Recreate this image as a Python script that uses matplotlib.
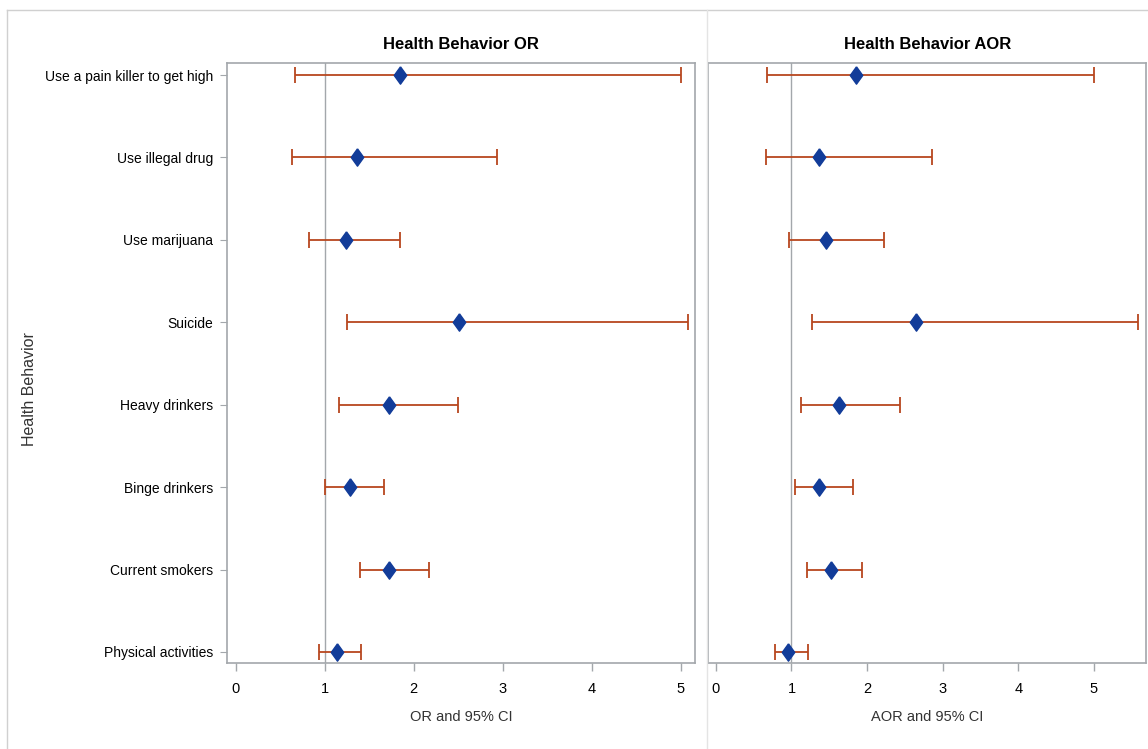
import numpy as np
import matplotlib.pyplot as plt
from matplotlib.lines import Line2D

# 数据：健康行为的 OR / AOR 及 95% 置信区间
behaviors = ['Use a pain killer to get high', 'Use illegal drug', 'Use marijuana', 'Suicide',
             'Heavy drinkers', 'Binge drinkers', 'Current smokers', 'Physical activities']

or_est = [1.85, 1.36, 1.24, 2.51, 1.72, 1.29, 1.72, 1.14]
or_low = [0.67, 0.63, 0.83, 1.25, 1.16, 1.00, 1.40, 0.94]
or_high = [5.00, 2.94, 1.85, 5.08, 2.50, 1.67, 2.17, 1.41]

aor_est = [1.85, 1.37, 1.46, 2.65, 1.63, 1.37, 1.52, 0.96]
aor_low = [0.68, 0.66, 0.97, 1.27, 1.12, 1.05, 1.21, 0.78]
aor_high = [5.00, 2.86, 2.23, 5.59, 2.44, 1.82, 1.93, 1.22]

x_ticks = [0, 1, 2, 3, 4, 5]

plt.rcParams['font.family'] = ['Liberation Sans', 'DejaVu Sans']

bar_color = '#B8471F'
marker_color = '#123C99'
frame_color = '#A3A7AB'
# 菱形标记（比 'd' 略宽）
diamond = [(0, 1), (0.72, 0), (0, -1), (-0.72, 0), (0, 1)]

fig = plt.figure(figsize=(11.48, 7.49), dpi=100)
ax1 = fig.add_axes([0.1977, 0.1148, 0.4077, 0.8011])
ax2 = fig.add_axes([0.617, 0.1148, 0.3813, 0.8011])

y = np.arange(len(behaviors))


def draw_panel(ax, est, low, high, title, xlabel, xlim):
    est = np.array(est)
    err = [est - np.array(low), np.array(high) - est]
    ax.axvline(1, color=frame_color, lw=1, zorder=1)
    ax.errorbar(est, y, xerr=err, fmt='none', ecolor=bar_color, elinewidth=1.3,
                capsize=6, capthick=1.3, zorder=2)
    ax.plot(est, y, linestyle='none', marker=diamond, markersize=12.5,
            color=marker_color, markeredgecolor=marker_color, zorder=3)
    ax.set_xlim(*xlim)
    ax.set_ylim(len(behaviors) - 1 + 0.134, -0.146)
    ax.set_xticks(x_ticks)
    ax.tick_params(axis='x', direction='out', length=6, width=1, color=frame_color,
                   labelsize=10.5, pad=8)
    ax.set_title(title, fontsize=12, fontweight='bold', pad=10)
    ax.set_xlabel(xlabel, fontsize=10.5, labelpad=10, color='#333333')
    for s in ax.spines.values():
        s.set_color(frame_color)
        s.set_linewidth(1.2)


draw_panel(ax1, or_est, or_low, or_high, 'Health Behavior OR', 'OR and 95% CI', (-0.096, 5.16))
draw_panel(ax2, aor_est, aor_low, aor_high, 'Health Behavior AOR', 'AOR and 95% CI', (-0.10, 5.69))

ax1.set_yticks(y)
ax1.set_yticklabels(behaviors, fontsize=10)
ax1.tick_params(axis='y', direction='out', length=5, color=frame_color, pad=5)
ax2.set_yticks([])

fig.text(0.026, 0.48, 'Health Behavior', rotation=90, ha='center', va='center',
         fontsize=11.5, color='#333333')

# 外框和面板分隔线
fig.add_artist(Line2D([0.006, 0.006], [0, 0.987], color='#D0D0D0', lw=1))
fig.add_artist(Line2D([0.006, 1], [0.987, 0.987], color='#D0D0D0', lw=1))
fig.add_artist(Line2D([0.616, 0.616], [0, 0.987], color='#E4E4E4', lw=1))

plt.savefig('out.png', dpi=100)
